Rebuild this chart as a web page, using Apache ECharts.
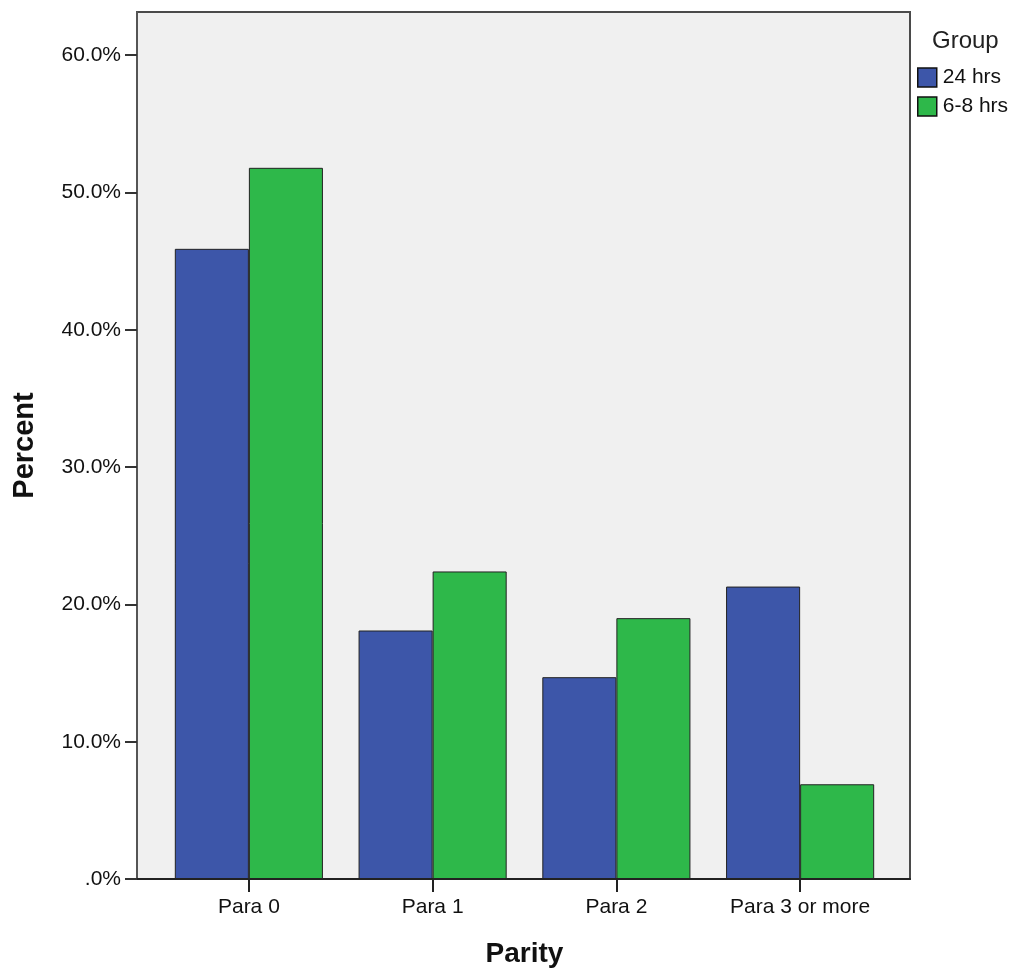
<!DOCTYPE html>
<html><head><meta charset="utf-8">
<script src="https://cdn.jsdelivr.net/npm/echarts@6/dist/echarts.min.js"></script>
<style>html,body{margin:0;padding:0;background:#fff}#c{width:1017px;height:973px}</style>
</head><body><div id="c"></div>
<script>
const categories = ['Para 0', 'Para 1', 'Para 2', 'Para 3 or more'];
const seriesNames = ['24 hrs', '6-8 hrs'];
const hrs24 = [45.9, 18.1, 14.7, 21.3];
const hrs68 = [51.8, 22.4, 19.0, 6.9];
const yTicks = [0, 10, 20, 30, 40, 50, 60];

const font = 'Liberation Sans, Arial, sans-serif';
const chart = echarts.init(document.getElementById('c'));
const yMax = 63.15;
chart.setOption({
  animation: false,
  backgroundColor: '#fff',
  title: { text: 'Group', left: 927, top: 24, textStyle: { fontFamily: font, fontSize: 24, fontWeight: 'normal', color: '#222' } },
  legend: {
    orient: 'vertical', left: 912, top: 62, padding: 5, itemWidth: 19, itemHeight: 19, itemGap: 8,
    icon: 'rect', data: seriesNames,
    textStyle: { fontFamily: font, fontSize: 21, color: '#111', padding: [0, 0, 0, 1] },
    itemStyle: { borderColor: '#111', borderWidth: 1.5 }
  },
  grid: [
    { left: 137, right: 107, top: 12, bottom: 94, show: true, backgroundColor: '#f0f0f0', borderColor: '#4a4a4a', borderWidth: 2 },
    { left: 157, right: 125, top: 12, bottom: 94 }
  ],
  xAxis: [
    { type: 'value', gridIndex: 0, min: 0, max: 1, axisLine: { show: true, onZero: false, lineStyle: { color: '#222', width: 2 } },
      axisTick: { show: false }, axisLabel: { show: false }, splitLine: { show: false } },
    { type: 'category', gridIndex: 1, data: categories,
      name: 'Parity', nameLocation: 'middle', nameGap: 61,
      nameTextStyle: { fontFamily: font, fontSize: 28, fontWeight: 'bold', color: '#111' },
      axisLine: { show: false },
      axisTick: { show: true, alignWithLabel: true, length: 13, lineStyle: { color: '#222', width: 2 } },
      axisLabel: { fontFamily: font, fontSize: 21, color: '#111', margin: 18 } }
  ],
  yAxis: [
    { type: 'value', gridIndex: 0, min: 0, max: yMax, interval: 10,
      name: 'Percent', nameLocation: 'middle', nameGap: 98, nameRotate: 90,
      nameTextStyle: { fontFamily: font, fontSize: 29, fontWeight: 'bold', color: '#111' },
      axisLine: { show: true, lineStyle: { color: '#555', width: 2 } },
      axisTick: { show: true, length: 12, lineStyle: { color: '#333', width: 2 }, customValues: yTicks },
      axisLabel: { fontFamily: font, fontSize: 21, color: '#111', margin: 16, customValues: yTicks,
        formatter: v => v === 0 ? '.0%' : v.toFixed(1) + '%' },
      splitLine: { show: false } },
    { type: 'value', gridIndex: 1, min: 0, max: yMax, show: false, splitLine: { show: false } }
  ],
  series: [
    { name: seriesNames[0], type: 'bar', xAxisIndex: 1, yAxisIndex: 1, data: hrs24, barGap: '0%', barCategoryGap: '19.4%',
      itemStyle: { color: '#3d56a9', borderColor: '#222', borderWidth: 1 } },
    { name: seriesNames[1], type: 'bar', xAxisIndex: 1, yAxisIndex: 1, data: hrs68, barGap: '0%', barCategoryGap: '19.4%',
      itemStyle: { color: '#2eb84a', borderColor: '#222', borderWidth: 1 } }
  ]
});
</script></body></html>
